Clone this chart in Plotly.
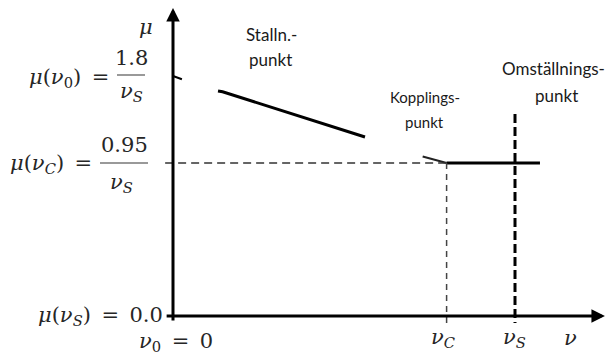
import plotly.graph_objects as go

# ---- schematic data (abstract units) ----
v_points = {"v0": 0.0, "vC": 0.8, "vS": 1.0}
v_axis_end = 1.263
mu_C = 0.95           # coupling level (schematic)
mu_0_tick = 1.48      # position of the mu(v0) tick (schematic)
mu_axis_end = 1.912

stall_x = [0.1316, 0.145, 0.5614]
stall_y = [1.397, 1.392, 1.1115]
hook_x = [0.73, 0.8]
hook_y = [0.99, 0.95]
coupled_x = [0.8, 1.073]
coupled_y = [0.95, 0.95]

W, H = 606, 358
X0, XS = 173, 342     # pixel of v=0, pixels per v unit
Y0, YS = 316, 161.05  # pixel of mu=0, pixels per mu unit

def px(x, y):
    return x / W, 1 - y / H

fig = go.Figure()

line_black = dict(color="black", width=3)

# stall curve
fig.add_trace(go.Scatter(x=stall_x, y=stall_y, mode="lines", line=line_black))
# hook near coupling point
fig.add_trace(go.Scatter(x=hook_x, y=hook_y, mode="lines", line=dict(color="#222", width=2)))
# coupled horizontal
fig.add_trace(go.Scatter(x=coupled_x, y=coupled_y, mode="lines", line=line_black))
# dashed horizontal at mu_C
fig.add_trace(go.Scatter(x=[-0.023, v_points["vC"]], y=[mu_C, mu_C], mode="lines",
                         line=dict(color="#333", width=1.5, dash="8px,5px")))
# thin dashed vertical at vC
fig.add_trace(go.Scatter(x=[v_points["vC"], v_points["vC"]], y=[mu_C, -0.043], mode="lines",
                         line=dict(color="#444", width=1.5, dash="6px,5px")))
# thick dashed vertical at vS
fig.add_trace(go.Scatter(x=[v_points["vS"], v_points["vS"]], y=[1.254, -0.043], mode="lines",
                         line=dict(color="black", width=3, dash="9px,4px")))
# tick at mu0
fig.add_trace(go.Scatter(x=[0.0, 0.026], y=[mu_0_tick + 0.01, mu_0_tick - 0.01], mode="lines",
                         line=dict(color="black", width=2)))

anns = []
# axes with arrows
anns.append(dict(x=0, y=mu_axis_end, ax=0, ay=-0.037, xref="x", yref="y", axref="x", ayref="y",
                 showarrow=True, arrowhead=2, arrowsize=0.9, arrowwidth=3, arrowcolor="black", text=""))
anns.append(dict(x=v_axis_end, y=0, ax=-0.023, ay=0, xref="x", yref="y", axref="x", ayref="y",
                 showarrow=True, arrowhead=2, arrowsize=0.9, arrowwidth=3, arrowcolor="black", text=""))

MATH = dict(family="DejaVu Serif", size=21, color="#262626")
LAB = dict(family="Lato", size=17, color="#1a1a1a")
SP = "\u2002"

def txt(text, x, y, font, xanchor="center"):
    a, b = px(x, y)
    anns.append(dict(text=text, x=a, y=b, xref="paper", yref="paper", showarrow=False,
                     xanchor=xanchor, yanchor="middle", font=font))

txt("<i>μ</i>", 146, 27, MATH)
txt(f"<i>μ</i>(<i>ν</i><sub>0</sub>){SP}=", 111, 78, MATH, "right")
txt("1.8", 131, 58, MATH)
txt("<i>ν<sub>S</sub></i>", 131, 92, MATH)
txt(f"<i>μ</i>(<i>ν<sub>C</sub></i>){SP}=", 94, 164, MATH, "right")
txt("0.95", 124, 145, MATH)
txt("<i>ν<sub>S</sub></i>", 121, 183, MATH)
txt(f"<i>μ</i>(<i>ν<sub>S</sub></i>){SP}={SP}0.0", 165, 316, MATH, "right")
txt(f"<i>ν</i><sub>0</sub>{SP}={SP}0", 176, 342, MATH)
txt("<i>ν<sub>C</sub></i>", 443, 338, MATH)
txt("<i>ν<sub>S</sub></i>", 514, 338, MATH)
txt("<i>ν</i>", 570, 338, MATH)

txt("Stalln.-", 271, 35, LAB)
txt("punkt", 270, 60, LAB)
txt("Kopplings-", 425, 97, dict(LAB, size=15))
txt("punkt", 424, 122, dict(LAB, size=15))
txt("Omställnings-", 553, 68, LAB)
txt("punkt", 556, 96, LAB)

shapes = []
for x1, x2, y in [(117, 145, 75), (100, 148, 163)]:
    a1, b = px(x1, y)
    a2, _ = px(x2, y)
    shapes.append(dict(type="line", xref="paper", yref="paper", x0=a1, x1=a2, y0=b, y1=b,
                       line=dict(color="#777", width=1.5)))

fig.update_layout(
    width=W, height=H, margin=dict(l=0, r=0, t=0, b=0),
    paper_bgcolor="white", plot_bgcolor="white", showlegend=False,
    xaxis=dict(range=[(0 - X0) / XS, (W - X0) / XS], visible=False),
    yaxis=dict(range=[(Y0 - H) / YS, Y0 / YS], visible=False),
    annotations=anns, shapes=shapes,
)
fig.write_html("out.html", config={"displayModeBar": False, "staticPlot": True},
               post_script="document.body.style.margin='0';document.body.style.overflow='hidden';")
